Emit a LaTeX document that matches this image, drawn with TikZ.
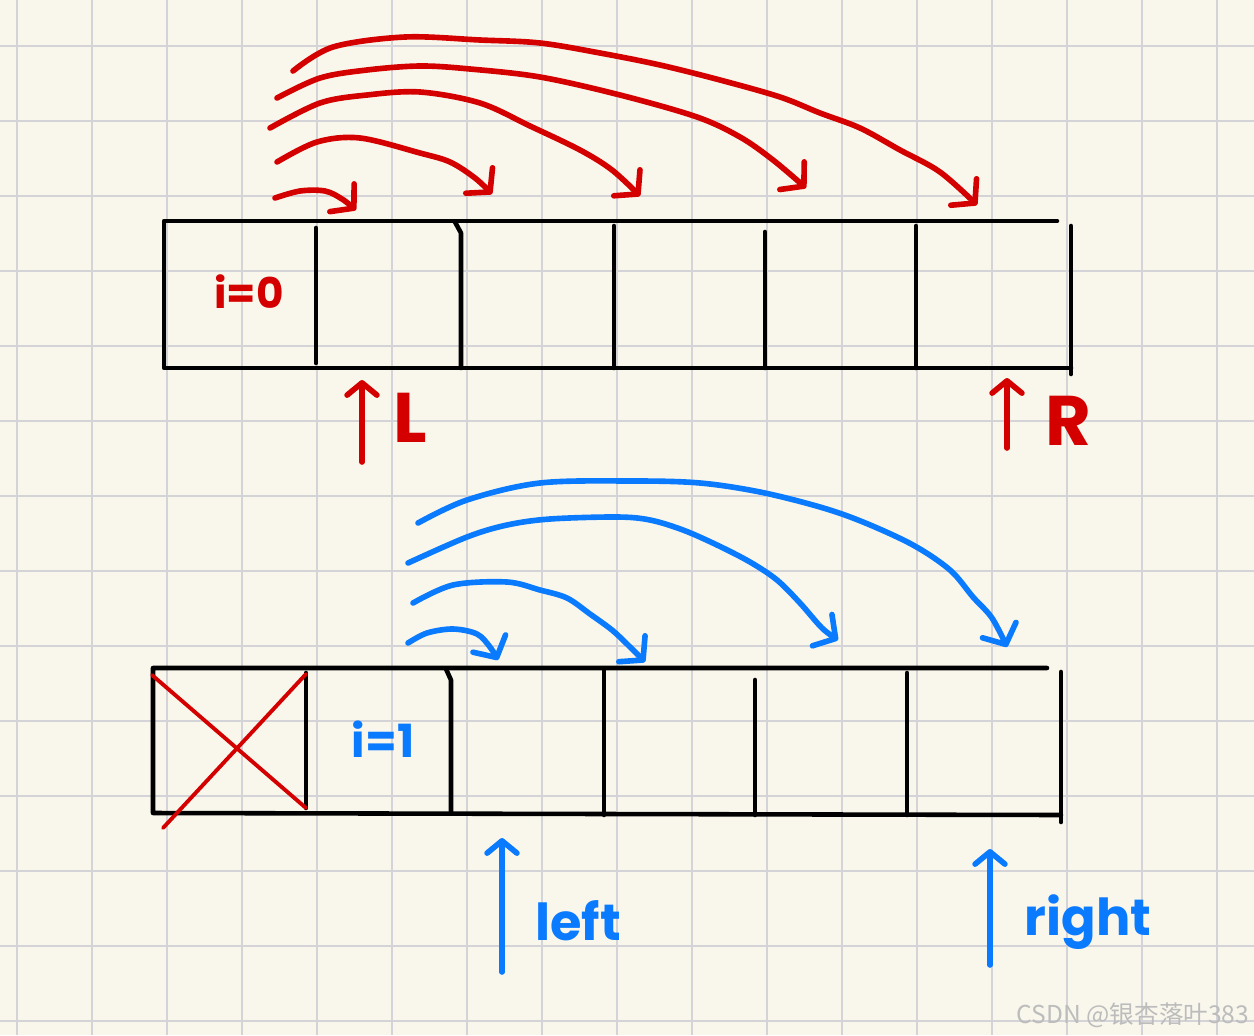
\documentclass[tikz,border=0pt]{standalone}
\usepackage{fontspec}
\usetikzlibrary{arrows.meta}
\newfontfamily\hand{Poppins}
\newfontfamily\cjk{Noto Sans CJK SC}
\definecolor{paper}{RGB}{249,247,236}
\definecolor{gridc}{RGB}{212,212,216}
\definecolor{inkred}{RGB}{212,0,0}
\definecolor{inkblue}{RGB}{10,122,255}
\definecolor{wmgray}{RGB}{188,188,188}
\begin{document}
\begin{tikzpicture}[x={(0.02cm,0)}, y={(0,-0.02cm)},
  gridline/.style={gridc, line width=1.1pt},
  cell/.style={line width=2.6pt, black, line cap=round, line join=round},
  redink/.style={line width=3.2pt, inkred, line cap=round, line join=round},
  blueink/.style={line width=3.2pt, inkblue, line cap=round, line join=round},
  hook/.style={-{Straight Barb[length=9pt,width=21pt,round]}},
  uptip/.style={-{Straight Barb[length=7pt,width=17pt,round]}},
  lbl/.style={inner sep=0pt, anchor=base}
]
\useasboundingbox (0,0) rectangle (1254,1035);
\fill[paper] (0,0) rectangle (1254,1035);
\foreach \k in {0,...,16} \draw[gridline] (17+75*\k,0) -- (17+75*\k,1035);
\foreach \k in {0,...,13} \draw[gridline] (0,46+75*\k) -- (1254,46+75*\k);

% ---- top array ----
\draw[cell] (1057,221) -- (164,221) -- (164,368) -- (1071,368);
\draw[cell] (1071,226) -- (1071,374);
\draw[cell] (316,228) -- (316,363);
\draw[cell] (455,222) -- (461,233) -- (461,368);
\draw[cell] (614,226) -- (614,368);
\draw[cell] (765,232) -- (765,368);
\draw[cell] (916,226) -- (916,368);

% ---- bottom array ----
\draw[cell] (1047,668) -- (153,668) -- (153,813) -- (1061,815);
\draw[cell] (1061,672) -- (1061,822);
\draw[cell] (306,673) -- (306,808);
\draw[cell] (446,669) -- (451,680) -- (451,813);
\draw[cell] (604,670) -- (604,815);
\draw[cell] (755,680) -- (755,815);
\draw[cell] (907,673) -- (907,815);

% red cross
\draw[redink, line width=2.2pt] (152,675) -- (306,808);
\draw[redink, line width=2.2pt] (306,674) -- (163,828);

% ---- red arcs ----
\coordinate (rs1) at (275,198); \coordinate (re1) at (356,210);
\coordinate (rs2) at (277,162); \coordinate (re2) at (492,194);
\coordinate (rs3) at (270,128); \coordinate (re3) at (640,196);
\coordinate (rs4) at (277,98);  \coordinate (re4) at (806,188);
\coordinate (rs5) at (293,71);  \coordinate (re5) at (977,205);
\draw[redink, hook] plot[smooth, tension=0.55] coordinates {(rs1) (300,191) (325,191) (342,199) (re1)};
\draw[redink, hook] plot[smooth, tension=0.55] coordinates {(rs2) (317,142) (360,138) (420,153) (450,162) (475,178) (re2)};
\draw[redink, hook] plot[smooth, tension=0.55] coordinates {(rs3) (320,103) (367,95) (420,92) (480,103) (530,126) (580,150) (612,170) (re3)};
\draw[redink, hook] plot[smooth, tension=0.55] coordinates {(rs4) (320,78) (367,70) (420,66) (470,69) (540,77) (620,95) (697,117) (740,137) (773,160) (re4)};
\draw[redink, hook] plot[smooth, tension=0.55] coordinates {(rs5) (333,47) (405,37) (480,40) (540,43) (600,53) (660,65) (720,80) (780,97) (820,113) (860,128) (900,150) (940,172) (re5)};

% ---- blue arcs ----
\coordinate (bs1) at (408,643); \coordinate (be1) at (498,660);
\coordinate (bs2) at (413,603); \coordinate (be2) at (645,662);
\coordinate (bs3) at (408,563); \coordinate (be3) at (838,640);
\coordinate (bs4) at (418,523); \coordinate (be4) at (1007,647);
\draw[blueink, hook] plot[smooth, tension=0.55] coordinates {(bs1) (427,633) (453,629) (477,634) (490,647) (be1)};
\draw[blueink, hook] plot[smooth, tension=0.55] coordinates {(bs2) (453,585) (507,582) (540,590) (567,598) (590,614) (612,630) (628,645) (be2)};
\draw[blueink, hook] plot[smooth, tension=0.55] coordinates {(bs3) (467,537) (507,525) (550,519) (617,517) (650,520) (683,530) (717,545) (750,562) (777,580) (800,603) (822,628) (be3)};
\draw[blueink, hook] plot[smooth, tension=0.55] coordinates {(bs4) (467,500) (540,483) (633,481) (700,483) (760,492) (820,507) (863,522) (913,545) (950,570) (973,597) (992,618) (be4)};

% ---- pointer arrows ----
\coordinate (lA) at (362,462); \coordinate (lB) at (362,380);
\coordinate (rA) at (1007,448); \coordinate (rB) at (1007,378);
\coordinate (leftA) at (502,972); \coordinate (leftB) at (502,838);
\coordinate (rightA) at (990,965); \coordinate (rightB) at (990,849);
\draw[redink, uptip] (lA) -- (lB);
\draw[redink, uptip] (rA) -- (rB);
\draw[blueink, uptip] (leftA) -- (leftB);
\draw[blueink, uptip] (rightA) -- (rightB);

% ---- labels ----
\node[lbl, text=inkred, font=\hand\bfseries\fontsize{24}{24}\selectfont] (i0) at (249,308) {i=0};
\node[lbl, text=inkblue, font=\hand\bfseries\fontsize{26}{26}\selectfont] (i1) at (383,757) {i=1};
\node[lbl, text=inkred, font=\hand\bfseries\fontsize{40}{40}\selectfont] (L) at (410,442) {L};
\node[lbl, text=inkred, font=\hand\bfseries\fontsize{40}{40}\selectfont] (R) at (1068,445) {R};
\node[lbl, text=inkblue, font=\hand\bfseries\fontsize{29}{29}\selectfont] (left) at (578,940) {left};
\node[lbl, text=inkblue, font=\hand\bfseries\fontsize{29}{29}\selectfont] (right) at (1088,935) {right};
\node[lbl, text=wmgray, font=\cjk\fontsize{14}{14}\selectfont] (wm) at (1133,1023) {CSDN @银杏落叶383};
\end{tikzpicture}
\end{document}
